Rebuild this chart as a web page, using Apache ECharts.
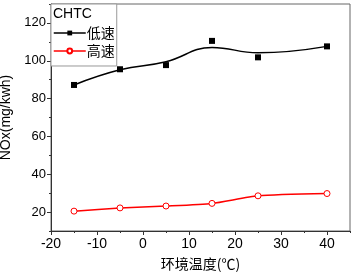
<!DOCTYPE html>
<html>
<head>
<meta charset="utf-8">
<script src="https://cdn.jsdelivr.net/npm/echarts@6/dist/echarts.min.js"></script>
<style>
  html, body { margin: 0; padding: 0; background: #fff; }
  #chart { width: 354px; height: 278px; }
</style>
</head>
<body>
<div id="chart"></div>
<script>
// ambient temperature (°C)
const temps = [-15, -5, 5, 15, 25, 40];
// measured NOx, mg/kWh
const lowSpeed = [87.2, 95.5, 97.7, 110.5, 101.8, 107.6];
const highSpeed = [20.5, 22.2, 23.2, 24.6, 28.6, 29.8];
// fitted curve for low speed at the same temperatures
const lowFit = [87.2, 95.2, 99.5, 107.0, 104.2, 107.6];

const pairs = (ys) => temps.map((t, i) => [t, ys[i]]);

const latin = 'Liberation Sans, Arial, sans-serif';
const cjk = 'Noto Sans CJK SC, sans-serif';

const chart = echarts.init(document.getElementById('chart'));

const option = {
  backgroundColor: '#fff',
  animation: false,
  title: {
    text: 'CHTC',
    left: 53,
    top: 7,
    padding: 0,
    textStyle: { fontFamily: latin, fontSize: 14, fontWeight: 'normal', color: '#000' },
    z: 10
  },
  legend: {
    left: 51,
    top: 4,
    orient: 'vertical',
    padding: [22, 2, 8, 2],
    borderColor: '#999',
    borderWidth: 1,
    backgroundColor: '#fff',
    itemWidth: 32,
    itemHeight: 6,
    itemGap: 4,
    textStyle: { fontFamily: cjk, fontSize: 14, color: '#000', padding: [0, 0, 0, -4] },
    data: [
      { name: '低速', lineStyle: { color: '#000', width: 1.5, opacity: 1 } },
      { name: '高速', lineStyle: { color: '#f00', width: 1.5, opacity: 1 } }
    ]
  },
  grid: {
    left: 51,
    top: 4,
    right: 4,
    bottom: 47,
    containLabel: false,
    outerBoundsMode: 'none',
    show: true,
    borderColor: '#666',
    borderWidth: 1
  },
  xAxis: [
    {
      type: 'value',
      min: -20,
      max: 45,
      interval: 10,
      name: '环境温度(℃)',
      nameLocation: 'middle',
      nameGap: 26,
      nameTextStyle: { fontFamily: cjk, fontSize: 14, color: '#000' },
      axisLine: { onZero: false, lineStyle: { color: '#333', width: 1 } },
      axisTick: { length: 4, lineStyle: { color: '#333' } },
      axisLabel: { fontFamily: latin, fontSize: 14, color: '#000', margin: 6, showMaxLabel: false },
      splitLine: { show: false }
    },
    {
      type: 'value',
      position: 'bottom',
      min: -20,
      max: 45,
      interval: 5,
      axisLine: { show: false, onZero: false },
      axisTick: { length: 2, lineStyle: { color: '#333' } },
      axisLabel: { show: false },
      splitLine: { show: false }
    }
  ],
  yAxis: [
    {
      type: 'value',
      min: 10,
      max: 130,
      splitNumber: 6,
      name: 'NOx(mg/kwh)',
      nameLocation: 'middle',
      nameGap: 36,
      nameTextStyle: { fontFamily: latin, fontSize: 14, color: '#000' },
      axisLine: { show: true, onZero: false, lineStyle: { color: '#333', width: 1 } },
      axisTick: { show: true, length: 4, lineStyle: { color: '#333' } },
      axisLabel: { fontFamily: latin, fontSize: 13, color: '#000', margin: 5, showMinLabel: false, showMaxLabel: false },
      splitLine: { show: false }
    },
    {
      type: 'value',
      position: 'left',
      min: 10,
      max: 130,
      interval: 10,
      axisLine: { show: false, onZero: false },
      axisTick: { show: true, length: 2, lineStyle: { color: '#333' } },
      axisLabel: { show: false },
      splitLine: { show: false }
    }
  ],
  series: [
    {
      name: '低速拟合',
      type: 'line',
      data: pairs(lowFit),
      smooth: 0.45,
      showSymbol: false,
      symbol: 'none',
      lineStyle: { color: '#000', width: 1.5 },
      z: 1
    },
    {
      name: '低速',
      type: 'line',
      data: pairs(lowSpeed),
      symbol: 'rect',
      symbolSize: 6,
      itemStyle: { color: '#000' },
      lineStyle: { color: '#000', width: 0, opacity: 0 },
      z: 3
    },
    {
      name: '高速',
      type: 'line',
      data: pairs(highSpeed),
      smooth: 0.2,
      symbol: 'circle',
      symbolSize: 6,
      itemStyle: { color: '#fff', borderColor: '#f00', borderWidth: 1 },
      lineStyle: { color: '#f00', width: 1.5 },
      z: 3
    }
  ]
};

chart.setOption(option);
</script>
</body>
</html>
